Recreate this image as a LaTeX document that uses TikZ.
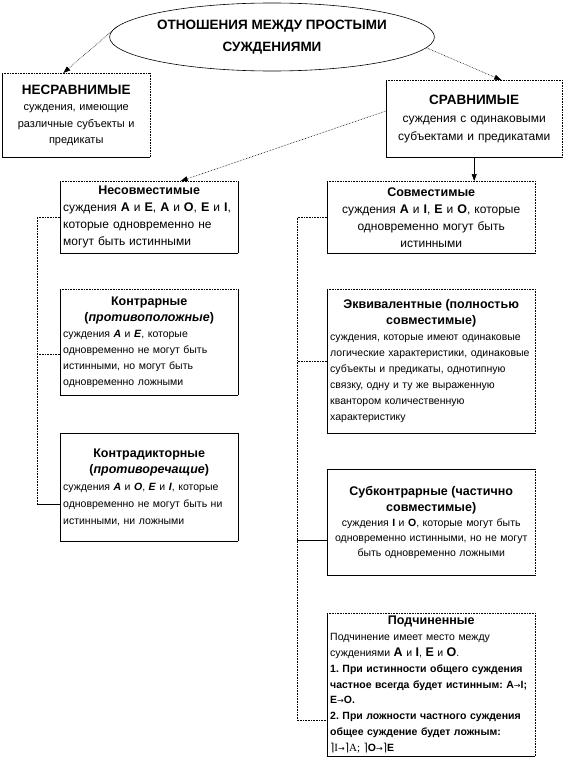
\documentclass[tikz,border=0pt]{standalone}
\usepackage{fontspec}
\setmainfont{Liberation Sans}
\newfontfamily\symf{DejaVu Sans}
\newfontfamily\serf{Liberation Serif}
\usetikzlibrary{shapes.geometric,arrows.meta,calc}
\setlength{\parindent}{0pt}
\frenchspacing
\newcommand{\fs}[2]{\fontsize{#1}{#2}\selectfont}
\newcommand{\ttl}[1]{{\centering\bfseries\fs{12.5}{16}#1\par}}
\newcommand{\lt}[1]{{\bfseries\fs{12.5}{16}#1}}
\newcommand{\ilt}[1]{\textbf{\textit{#1}}}
\newcommand{\rarr}{{\symf\mdseries\fs{8}{10}→}}
\newcommand{\negs}{{\symf\mdseries\fs{11}{12}⌉}}

\begin{document}
\begin{tikzpicture}[x=1pt, y=-1pt,
		box/.style={anchor=north west, inner sep=3pt, font=\fs{10.5}{16}},
		conn/.style={densely dotted, line width=0.6pt, -{Triangle[length=7pt,width=5pt]}},
		link/.style={densely dotted, line width=0.6pt},
		solidlink/.style={line width=0.6pt}]
		\useasboundingbox (0,0) rectangle (567,760);
		
		% Top
		\node[ellipse, draw, line width=0.6pt, minimum width=306pt, minimum height=68pt, inner sep=0pt,
			align=center, font=\bfseries\fs{13.5}{22}] (rel) at (272,37) {ОТНОШЕНИЯ МЕЖДУ ПРОСТЫМИ\\СУЖДЕНИЯМИ};
		\node[box, minimum width=148pt, minimum height=84pt, text width=142pt, align=center, font=\fs{11}{16.5}] (nesr) at (2,73)
			{{\bfseries\fs{13.5}{18}НЕСРАВНИМЫЕ\par}суждения, имеющие\\различные субъекты и\\предикаты};
		\node[box, minimum width=176pt, minimum height=77pt, text width=170pt, align=center, font=\fs{12}{18}] (sr) at (386,80)
			{{\bfseries\fs{13.5}{20}СРАВНИМЫЕ\par}суждения с одинаковыми\\субъектами и предикатами};
		
		% Left column
		\node[box, minimum width=178pt, minimum height=72pt, text width=172pt, align=left, font=\fs{12}{17}] (nesovm) at (60,181)
			{\ttl{Несовместимые}суждения \lt{A} и \lt{E}, \lt{A} и \lt{O}, \lt{E} и \lt{I},\\которые одновременно не\\могут быть истинными};
		\node[box, minimum width=178pt, minimum height=106pt, text width=172pt, align=left] (kontr) at (60,289)
			{\ttl{Контрарные}\ttl{(\textit{противоположные})}суждения \ilt{A} и \ilt{E}, которые\\одновременно не могут быть\\истинными, но могут быть\\одновременно ложными};
		\node[box, minimum width=178pt, minimum height=108pt, text width=172pt, align=left, font=\fs{10.5}{17}] (kontrd) at (60,433)
			{\ttl{Контрадикторные}\ttl{(\textit{противоречащие})}суждения \ilt{A} и \ilt{O}, \ilt{E} и \ilt{I}, которые\\одновременно не могут быть ни\\истинными, ни ложными};
		
		% Right column
		\node[box, minimum width=208pt, minimum height=72pt, text width=202pt, align=center, font=\fs{12}{17}] (sovm) at (327,181)
			{\ttl{Совместимые}суждения \lt{A} и \lt{I}, \lt{E} и \lt{O}, которые\\одновременно могут быть\\истинными};
		\node[box, minimum width=208pt, minimum height=144pt, text width=202pt, align=left] (ekv) at (327,289)
			{\ttl{Эквивалентные (полностью\\совместимые)}суждения, которые имеют одинаковые\\логические характеристики, одинаковые\\субъекты и предикаты, однотипную\\связку, одну и ту же выраженную\\квантором количественную\\характеристику};
		\node[box, minimum width=208pt, minimum height=106pt, text width=202pt, align=center, font=\fs{10.5}{15}] (subk) at (327,469)
			{\ttl{Субконтрарные (частично\\совместимые)}суждения \textbf{I} и \textbf{O}, которые могут быть\\одновременно истинными, но не могут\\быть одновременно ложными};
		\node[box, minimum width=208pt, minimum height=142pt, text width=202pt, align=left, font=\fs{10.5}{15.8}] (podch) at (327,613)
			{\ttl{Подчиненные}Подчинение имеет место между\\суждениями \lt{A} и \lt{I}, \lt{E} и \lt{O}.\\
			\textbf{1. При истинности общего суждения\\частное всегда будет истинным: A\rarr I;\\E\rarr O.\\
			2. При ложности частного суждения\\общее суждение будет ложным:}\\
			\negs{\serf\fs{11}{12}I}\rarr\negs{\serf\fs{11}{12}A;} \negs\textbf{O}\rarr\negs\textbf{E}};
		
		% Box frames
		\foreach \b in {nesr,sr,nesovm,kontr,kontrd,sovm,ekv,subk,podch}
			\draw[solidlink] (\b.north west) -- (\b.south west) -- (\b.south east);
		\foreach \b in {nesr,sr,nesovm,kontr,sovm,ekv,podch}
			\draw[link] (\b.north west) -- (\b.north east);
		\foreach \b in {kontrd,subk}
			\draw[solidlink] (\b.north west) -- (\b.north east);
		\foreach \b in {nesr,sr,sovm,ekv,subk,podch}
			\draw[link] (\b.north east) -- (\b.south east);
		\foreach \b in {nesovm,kontr,kontrd}
			\draw[solidlink] (\b.north east) -- (\b.south east);
		
		% Arrows
		\draw[conn] (rel.176) -- (nesr.107);
		\draw[conn] (rel.356) -- (sr.55);
		\draw[conn] (sr.175) -- (nesovm.49);
		\draw[solidlink, -{Triangle[length=7pt,width=5pt]}] (sr.south) -- (sr.south |- sovm.north);
		
		% Spines
		\coordinate (lsp) at (37,217);
		\coordinate (rsp) at (297,217);
		\draw[link] (nesovm.west) -- (nesovm.west -| lsp) -- (kontrd.191 -| lsp);
		\draw[link] (kontr.188) -- (kontr.188 -| lsp);
		\draw[solidlink] (kontrd.191) -- (kontrd.191 -| lsp);
		\draw[link] (sovm.west) -- (sovm.west -| rsp) -- (podch.199 -| rsp) -- (podch.199);
		\draw[link] (ekv.west) -- (ekv.west -| rsp);
		\draw[solidlink] (subk.190) -- (subk.190 -| rsp);
	\end{tikzpicture}
\end{document}
